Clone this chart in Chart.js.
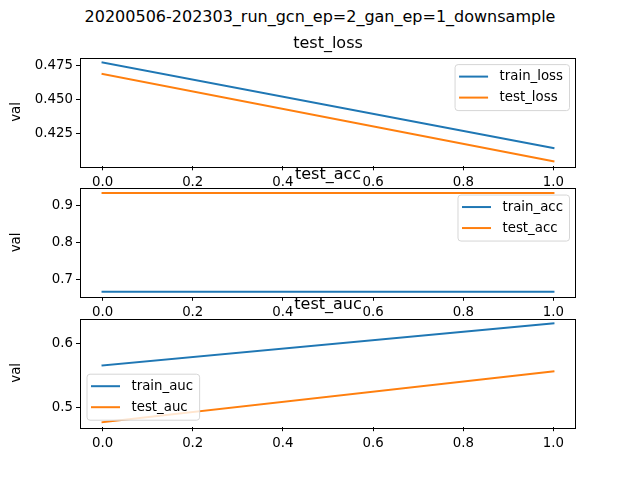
<!DOCTYPE html>
<html><head><meta charset="utf-8">
<script src="https://cdn.jsdelivr.net/npm/chart.js@4.4.1/dist/chart.umd.min.js"></script>
<style>
html,body{margin:0;padding:0;background:#fff;}
#wrap{position:relative;width:640px;height:480px;overflow:hidden;background:#fff;}
canvas{position:absolute;left:0;top:0;}
#sup{position:absolute;left:0;top:9px;width:640px;text-align:center;font-family:'DejaVu Sans';font-size:16px;line-height:16px;color:#000;white-space:nowrap;}
</style></head><body>
<div id="wrap">
<div id="sup"></div>
<canvas id="c1" width="640" height="480"></canvas>
<canvas id="c2" width="640" height="480"></canvas>
<canvas id="c3" width="640" height="480"></canvas>
</div>
<script>
// ---- data ----
const suptitle = '20200506-202303_run_gcn_ep=2_gan_ep=1_downsample';
const panelTitles = ['test_loss', 'test_acc', 'test_auc'];
const epochs = [0, 1];
const trainLoss = [0.4770, 0.4145];
const testLoss = [0.4686, 0.4048];
const trainAcc = [0.6655, 0.6655];
const testAcc = [0.9345, 0.9345];
const trainAuc = [0.5660, 0.6320];
const testAuc = [0.4766, 0.5567];
const xTicks = [0, 0.2, 0.4, 0.6, 0.8, 1.0];
const xTickLabels = ['0.0', '0.2', '0.4', '0.6', '0.8', '1.0'];
const lossTicks = [0.425, 0.450, 0.475];
const lossTickLabels = ['0.425', '0.450', '0.475'];
const accTicks = [0.7, 0.8, 0.9];
const accTickLabels = ['0.7', '0.8', '0.9'];
const aucTicks = [0.5, 0.6];
const aucTickLabels = ['0.5', '0.6'];
const yLabel = 'val';

// ---- styling / layout ----
const FONT = 'DejaVu Sans';
const FS = 13.33;
const C_BLUE = '#1f77b4', C_ORANGE = '#ff7f0e';
const axesTops = [57.6, 188.05, 318.5];
const axesBottoms = [166.3, 296.75, 427.2];

document.getElementById('sup').textContent = suptitle;

const boxPlugin = {
  id: 'mplBox',
  afterDatasetsDraw(chart) {
    const ca = chart.chartArea, ctx = chart.ctx;
    ctx.save();
    ctx.strokeStyle = '#000';
    ctx.lineWidth = 1;
    ctx.strokeRect(Math.round(ca.left) + 0.5, Math.round(ca.top) + 0.5,
      Math.round(ca.right - ca.left) - 1, Math.round(ca.bottom - ca.top));
    ctx.restore();
  }
};

const legendPlugin = {
  id: 'mplLegend',
  afterDraw(chart, args, opts) {
    const ctx = chart.ctx, ca = chart.chartArea;
    const ds = chart.data.datasets;
    ctx.save();
    ctx.font = FS + 'px "' + FONT + '"';
    const tw = Math.max(...ds.map(d => ctx.measureText(d.label).width));
    const w = 4 + 29 + 11.5 + tw + 6.5, h = 46;
    let x0, y0;
    if (opts.corner === 'ur') { x0 = ca.right - 6.5 - w; y0 = ca.top + 7; }
    else { x0 = ca.left + 7; y0 = ca.bottom - 7 - h; }
    const r = 3;
    ctx.beginPath();
    ctx.moveTo(x0 + r, y0);
    ctx.lineTo(x0 + w - r, y0);
    ctx.arcTo(x0 + w, y0, x0 + w, y0 + r, r);
    ctx.lineTo(x0 + w, y0 + h - r);
    ctx.arcTo(x0 + w, y0 + h, x0 + w - r, y0 + h, r);
    ctx.lineTo(x0 + r, y0 + h);
    ctx.arcTo(x0, y0 + h, x0, y0 + h - r, r);
    ctx.lineTo(x0, y0 + r);
    ctx.arcTo(x0, y0, x0 + r, y0, r);
    ctx.closePath();
    ctx.fillStyle = 'rgba(255,255,255,0.8)';
    ctx.fill();
    ctx.strokeStyle = '#d6d6d6';
    ctx.lineWidth = 1;
    ctx.stroke();
    ds.forEach((d, i) => {
      const yy = y0 + 12 + i * 21;
      ctx.beginPath();
      ctx.moveTo(x0 + 4, yy);
      ctx.lineTo(x0 + 33, yy);
      ctx.strokeStyle = d.borderColor;
      ctx.lineWidth = 2;
      ctx.stroke();
      ctx.fillStyle = '#000';
      ctx.textBaseline = 'middle';
      ctx.textAlign = 'left';
      ctx.fillText(d.label, x0 + 44.5, yy);
    });
    ctx.restore();
  }
};

function pts(ys) { return epochs.map((x, i) => ({ x: x, y: ys[i] })); }
function lims(arrs) {
  const all = [].concat(...arrs);
  const mn = Math.min(...all), mx = Math.max(...all);
  const m = (mx - mn) * 0.05;
  return [mn - m, mx + m];
}

const panels = [
  { id: 'c1', title: panelTitles[0], series: [['train_loss', trainLoss, C_BLUE], ['test_loss', testLoss, C_ORANGE]],
    ticks: lossTicks, labels: lossTickLabels, corner: 'ur' },
  { id: 'c2', title: panelTitles[1], series: [['train_acc', trainAcc, C_BLUE], ['test_acc', testAcc, C_ORANGE]],
    ticks: accTicks, labels: accTickLabels, corner: 'ur' },
  { id: 'c3', title: panelTitles[2], series: [['train_auc', trainAuc, C_BLUE], ['test_auc', testAuc, C_ORANGE]],
    ticks: aucTicks, labels: aucTickLabels, corner: 'll' }
];

panels.forEach((p, k) => {
  const [ymin, ymax] = lims(p.series.map(s => s[1]));
  const titleH = 16 * 1.2 + 4;
  const padTop = axesTops[k] - titleH;
  const padBottom = 480 - axesBottoms[k] - 20;
  new Chart(document.getElementById(p.id), {
    type: 'line',
    data: {
      datasets: p.series.map(s => ({
        label: s[0], data: pts(s[1]), borderColor: s[2], backgroundColor: s[2],
        borderWidth: 2, pointRadius: 0, fill: false, tension: 0, borderCapStyle: 'square'
      }))
    },
    options: {
      responsive: false, animation: false, devicePixelRatio: 1, events: [],
      layout: { padding: { left: 0, right: 64, top: padTop, bottom: padBottom } },
      plugins: {
        legend: { display: false },
        tooltip: { enabled: false },
        title: { display: true, text: p.title, fullSize: false, color: '#000',
          font: { family: FONT, size: 16, weight: 'normal' }, padding: { top: 0, bottom: 4 } },
        mplLegend: { corner: p.corner }
      },
      scales: {
        x: {
          type: 'linear', min: -0.05, max: 1.05,
          afterBuildTicks: s => { s.ticks = xTicks.map(v => ({ value: v })); },
          afterFit: s => { s.height = 20; },
          ticks: { callback: (v, i) => xTickLabels[i], color: '#000', font: { family: FONT, size: FS },
            padding: 4, maxRotation: 0, autoSkip: false },
          grid: { drawOnChartArea: false, drawTicks: true, tickLength: 4, color: '#000', lineWidth: 1 },
          border: { display: false }
        },
        y: {
          type: 'linear', min: ymin, max: ymax,
          afterBuildTicks: s => { s.ticks = p.ticks.map(v => ({ value: v })); },
          afterFit: s => { s.width = 80; },
          ticks: { callback: (v, i) => p.labels[i], color: '#000', font: { family: FONT, size: FS },
            padding: 3, autoSkip: false },
          grid: { drawOnChartArea: false, drawTicks: true, tickLength: 4, color: '#000', lineWidth: 1 },
          border: { display: false },
          title: { display: true, text: yLabel, color: '#000', font: { family: FONT, size: FS },
            padding: { top: 8.5, bottom: 0 } }
        }
      }
    },
    plugins: [boxPlugin, legendPlugin]
  });
});
</script>
</body></html>
